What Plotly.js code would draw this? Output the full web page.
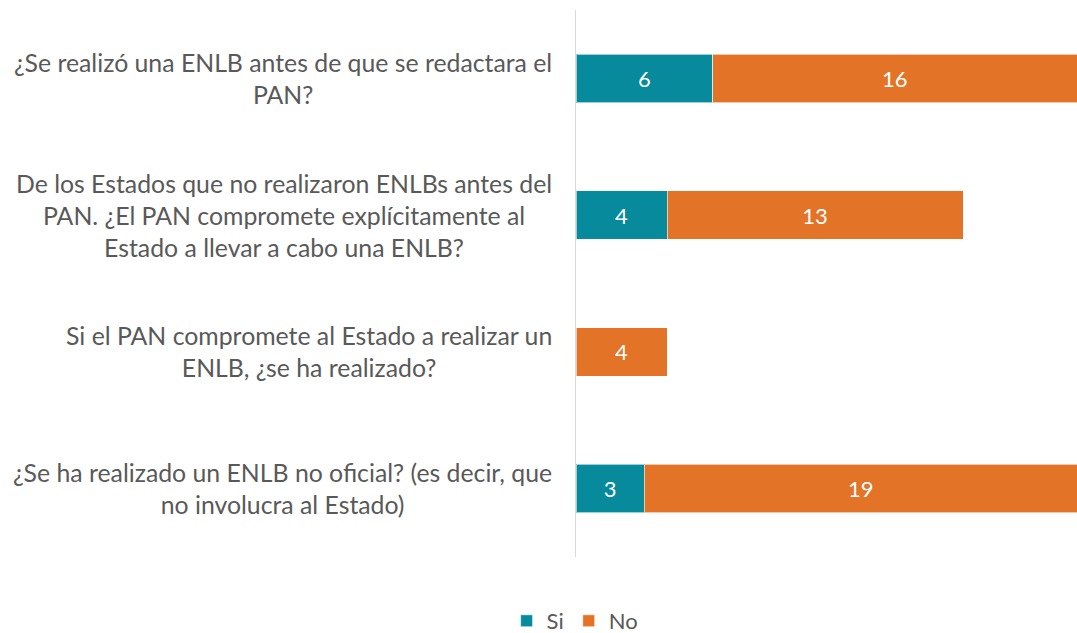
<!DOCTYPE html>
<html>
<head>
<meta charset="utf-8">
<script src="https://cdn.plot.ly/plotly-3.0.1.min.js"></script>
<style>html,body{margin:0;padding:0;background:#fff;}#chart{width:1077px;height:633px;}</style>
</head>
<body>
<div id="chart"></div>
<script>
const categories = [
  "¿Se realizó una ENLB antes de que se redactara el<br>PAN?",
  "De los Estados que no realizaron ENLBs antes del<br>PAN. ¿El PAN compromete explícitamente al<br>Estado a llevar a cabo una ENLB?",
  "Si el PAN compromete al Estado a realizar un<br>ENLB, ¿se ha realizado?",
  "¿Se ha realizado un ENLB no oficial? (es decir, que<br>no involucra al Estado)"
];
const siValues = [6, 4, null, 3];
const noValues = [16, 13, 4, 19];
const seriesNames = ["Si", "No"];

const FONT = "Lato, 'Open Sans', sans-serif";
const ids = categories.map((c, i) => "c" + i);

const traces = [
  {
    type: "bar", orientation: "h", name: seriesNames[0],
    y: ids, x: siValues,
    marker: {color: "#078A9C", line: {color: "rgba(255,255,255,0.6)", width: 1}},
    text: siValues.map(v => v == null ? "" : String(v)),
    textposition: "inside", insidetextanchor: "middle",
    textfont: {color: "#ffffff", size: 22, family: FONT},
    hoverinfo: "x+name"
  },
  {
    type: "bar", orientation: "h", name: seriesNames[1],
    y: ids, x: noValues,
    marker: {color: "#E37427", line: {color: "rgba(255,255,255,0.6)", width: 1}},
    text: noValues.map(v => v == null ? "" : String(v)),
    textposition: "inside", insidetextanchor: "middle",
    textfont: {color: "#ffffff", size: 22, family: FONT},
    hoverinfo: "x+name"
  }
];

const annotations = categories.map((c, i) => ({
  xref: "paper", yref: "y", x: 0, y: ids[i],
  xanchor: "right", yanchor: "middle", xshift: -22,
  text: c, align: "center", showarrow: false,
  font: {family: FONT, size: 24.8, color: "#595959"}
}));

const layout = {
  width: 1077, height: 633,
  margin: {l: 576, r: 0, t: 10, b: 76, pad: 0},
  paper_bgcolor: "#ffffff", plot_bgcolor: "#ffffff",
  barmode: "stack", bargap: 0.647,
  font: {family: FONT, color: "#595959"},
  xaxis: {range: [0, 22], visible: false, fixedrange: true},
  yaxis: {
    type: "category", categoryorder: "array", categoryarray: ids,
    range: [3.5, -0.5], showticklabels: false, ticks: "",
    showline: true, linecolor: "#D9D9D9", linewidth: 1.5, showgrid: false,
    zeroline: false
  },
  showlegend: true,
  legend: {
    orientation: "h", xref: "container", x: 0.534, xanchor: "center",
    yref: "container", y: 0.019, yanchor: "middle",
    font: {family: FONT, size: 22, color: "#595959"},
    traceorder: "normal", itemwidth: 30
  },
  annotations: annotations
};

Plotly.newPlot("chart", traces, layout, {displayModeBar: false, staticPlot: true});
</script>
</body>
</html>
